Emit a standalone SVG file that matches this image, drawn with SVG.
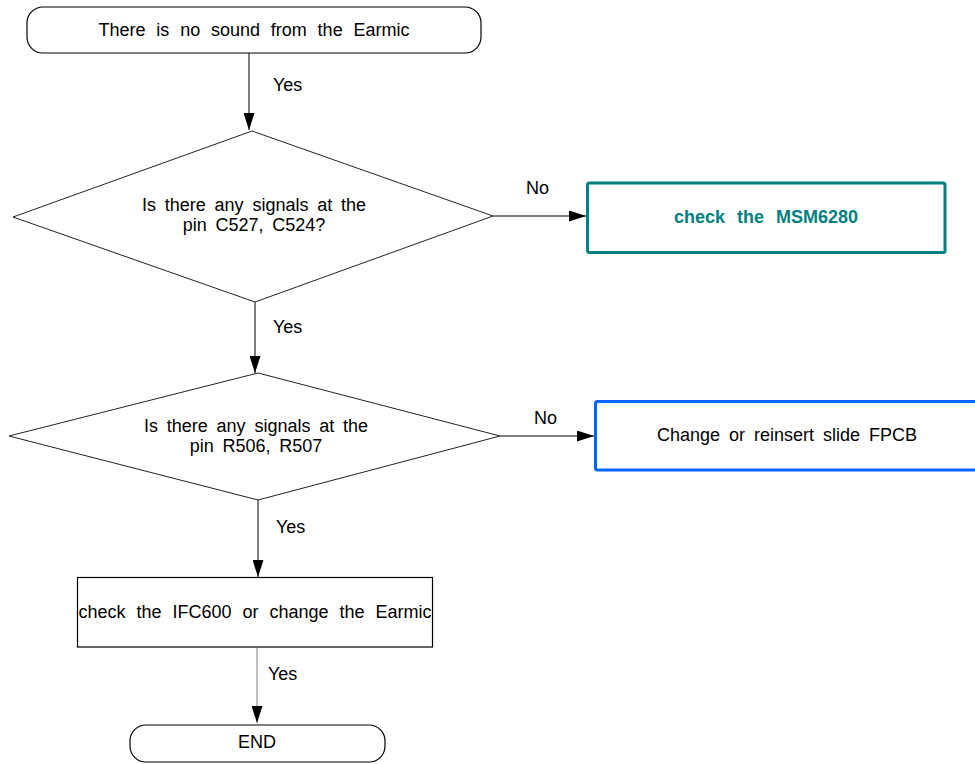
<svg xmlns="http://www.w3.org/2000/svg" width="975" height="764" viewBox="0 0 975 764">
<style>
text{font-family:"Liberation Sans",Arial,sans-serif;font-size:18px;fill:#000;text-anchor:middle}
.shape{fill:#fff;stroke:#000;stroke-width:1.2}
.dia{fill:#fff;stroke:#222;stroke-width:1}
.conn{stroke:#000;stroke-width:1;fill:none}
.lbl{text-anchor:start}
</style>
<defs>
<marker id="ah" markerUnits="userSpaceOnUse" markerWidth="18" markerHeight="11" refX="17" refY="5.5" orient="auto">
<path d="M0,0 L17,5.5 L0,11 z" fill="#000"/>
</marker>
</defs>
<rect width="975" height="764" fill="#fff"/>
<g id="connectors">
<line class="conn" x1="249" y1="53" x2="249" y2="130" marker-end="url(#ah)"/>
<line class="conn" x1="493" y1="216" x2="586" y2="216" marker-end="url(#ah)"/>
<line class="conn" x1="255" y1="302" x2="255" y2="373" marker-end="url(#ah)"/>
<line class="conn" x1="500" y1="436" x2="594" y2="436" marker-end="url(#ah)"/>
<line class="conn" x1="258" y1="500" x2="258" y2="577" marker-end="url(#ah)"/>
<line class="conn" x1="257" y1="648" x2="257" y2="723" style="stroke:#808080" marker-end="url(#ah)"/>
<text class="lbl" x="273" y="91">Yes</text>
<text class="lbl" x="526" y="194">No</text>
<text class="lbl" x="273" y="333">Yes</text>
<text class="lbl" x="534" y="424">No</text>
<text class="lbl" x="276" y="533">Yes</text>
<text class="lbl" x="268" y="680">Yes</text>
</g>
<g id="start">
<rect class="shape" x="27" y="7" width="454" height="46" rx="16" ry="16"/>
<text x="254" y="36" style="word-spacing:5.8px">There is no sound from the Earmic</text>
</g>
<g id="decision1">
<polygon class="dia" points="252,131 493,216 255,302 13,217"/>
<text x="254" y="211" style="word-spacing:3.8px">Is there any signals at the</text>
<text x="254" y="231" style="word-spacing:3.8px">pin C527, C524?</text>
</g>
<g id="msm">
<rect x="587.5" y="183" width="357.5" height="69.5" rx="2" fill="#fff" stroke="#008080" stroke-width="3"/>
<text x="766" y="223" style="font-weight:bold;fill:#008080;word-spacing:7px">check the MSM6280</text>
</g>
<g id="decision2">
<polygon class="dia" points="258,373 500,436 258,500 9,436"/>
<text x="256" y="432" style="word-spacing:3.8px">Is there any signals at the</text>
<text x="256" y="452" style="word-spacing:3.8px">pin R506, R507</text>
</g>
<g id="fpcb">
<rect x="595.5" y="401.5" width="390" height="68.5" rx="2" fill="#fff" stroke="#0066ff" stroke-width="3"/>
<text x="787" y="441" style="word-spacing:4px">Change or reinsert slide FPCB</text>
</g>
<g id="ifc">
<rect class="shape" x="77.5" y="577.5" width="355" height="69.5"/>
<text x="255" y="618" style="word-spacing:6px">check the IFC600 or change the Earmic</text>
</g>
<g id="end">
<rect class="shape" x="130" y="725" width="255" height="37" rx="16" ry="16"/>
<text x="257" y="748">END</text>
</g>
</svg>
